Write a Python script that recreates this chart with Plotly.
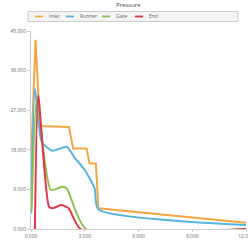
import plotly.graph_objects as go

inlet_x = [0.0, 0.25, 0.5, 2.12, 2.35, 3.1, 3.27, 3.62, 3.76, 12.0]
inlet_y = [15.0, 43.0, 23.4, 23.2, 18.3, 18.3, 14.9, 14.9, 4.7, 1.4]

runner_x = [0.0, 0.22, 0.6, 1.2, 2.0, 2.4, 3.0, 3.55, 3.75, 12.0]
runner_y = [3.5, 31.8, 19.8, 17.8, 18.7, 16.4, 13.4, 9.2, 4.5, 0.9]

gate_x = [0.03, 0.33, 1.1, 1.75, 2.0, 3.07, 12.0]
gate_y = [4.0, 29.5, 8.9, 9.6, 9.2, 0.0, 0.0]

end_x = [0.22, 0.4, 1.0, 1.2, 1.67, 2.1, 2.77, 12.0]
end_y = [0.0, 30.4, 5.1, 4.7, 5.45, 4.7, 0.0, 0.0]

names = ["Inlet", "Runner", "Gate", "End"]
colors = ["#f7a541", "#52b5e0", "#8bc34a", "#e5334b"]
shapes = ["linear", "spline", "spline", "spline"]
series = [(inlet_x, inlet_y), (runner_x, runner_y), (gate_x, gate_y), (end_x, end_y)]

x_ticks = [0, 3, 6, 9, 12]
y_ticks = [0, 9, 18, 27, 36, 45]

W, H = 248, 242
L, R, T, B = 31, 2, 31, 13
pw, ph = W - L - R, H - T - B

def px(x):
    return (x - L) / pw

def py(y):
    return (H - B - y) / ph

fig = go.Figure()
for (xs, ys), n, c, s in zip(series, names, colors, shapes):
    fig.add_trace(go.Scatter(x=xs, y=ys, mode="lines", name=n, showlegend=False,
                             line=dict(color=c, width=2, shape=s, smoothing=0.6)))

# manual legend
legend_shapes = [dict(type="rect", xref="paper", yref="paper",
                      x0=px(28), x1=px(238), y0=py(21.5), y1=py(11.5),
                      fillcolor="#f4f4f4", line=dict(color="#cccccc", width=1), layer="below")]
annots = []
sw_x = [35, 66, 102, 135]
tx_x = [47, 78, 114, 147]
for n, c, sx, tx in zip(names, colors, sw_x, tx_x):
    legend_shapes.append(dict(type="line", xref="paper", yref="paper",
                              x0=px(sx), x1=px(sx + 8), y0=py(16.5), y1=py(16.5),
                              line=dict(color=c, width=1.8)))
    annots.append(dict(text=n, xref="paper", yref="paper", x=px(tx), y=py(16.5),
                       xanchor="left", yanchor="middle", showarrow=False,
                       font=dict(size=5, color="#666")))
annots.append(dict(text="Pressure", xref="paper", yref="paper", x=px(128), y=py(5.5),
                   xanchor="center", yanchor="middle", showarrow=False,
                   font=dict(size=6, color="#444")))

fig.update_layout(
    width=W, height=H,
    margin=dict(l=L, r=R, t=T, b=B, autoexpand=False),
    paper_bgcolor="white", plot_bgcolor="white",
    font=dict(family="Open Sans", size=5, color="#666"),
    showlegend=False, hovermode=False,
    shapes=legend_shapes, annotations=annots,
    xaxis=dict(range=[0, 12], tickvals=x_ticks, tickformat=".3f",
               showgrid=False, zeroline=False, showline=True, linecolor="#ccc",
               ticks="outside", ticklen=2, tickcolor="#ccc", tickfont=dict(size=5),
               automargin=False, ticklabeloverflow="allow"),
    yaxis=dict(range=[0, 45], tickvals=y_ticks, tickformat=".3f",
               showgrid=False, zeroline=False, showline=True, linecolor="#ccc",
               ticks="outside", ticklen=3, tickcolor="#ccc", tickfont=dict(size=5),
               automargin=False, ticklabeloverflow="allow"),
)

fig.write_html("out.html", config={"displayModeBar": False},
               post_script="document.body.style.margin='0';")
